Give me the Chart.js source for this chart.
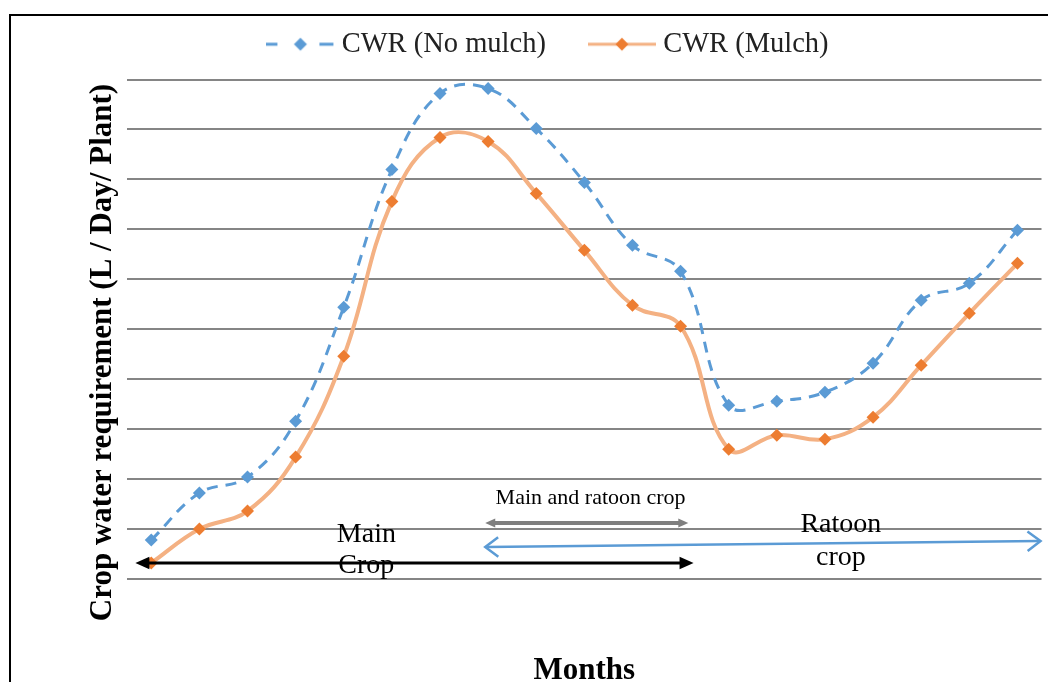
<!DOCTYPE html>
<html lang="en">
<head>
    <meta charset="UTF-8">
    <title>Crop water requirement</title>
    <script src="https://cdn.jsdelivr.net/npm/chart.js"></script>
    <style>
        html, body { margin: 0; padding: 0; background: #fff; overflow: hidden; }
        canvas { display: block; }
    </style>
</head>
<body>
    <canvas id="cwrChart" width="1048" height="682"></canvas>

    <script>
        // Months along the season (no tick labels are shown on the chart)
        const months = ['1', '2', '3', '4', '5', '6', '7', '8', '9', '10',
                        '11', '12', '13', '14', '15', '16', '17', '18', '19'];
        // Crop water requirement (one gridline = 1 unit)
        const cwrNoMulch = [0.78, 1.72, 2.04, 3.16, 5.44, 8.2, 9.72, 9.82, 9.02, 7.94,
                            6.68, 6.16, 3.48, 3.56, 3.74, 4.32, 5.58, 5.92, 6.98];
        const cwrMulch = [0.32, 1.0, 1.36, 2.44, 4.46, 7.56, 8.84, 8.76, 7.72, 6.58,
                          5.48, 5.06, 2.6, 2.88, 2.8, 3.24, 4.28, 5.32, 6.32];

        const serif = "'Liberation Serif', 'Times New Roman', serif";
        const blue = '#5B9BD5';
        const orange = '#ED7D31';
        const orangeLine = '#F4B183';

        // small canvas icons so the legend shows line + diamond like Excel
        function legendIcon(markColor, lineColor, dashed) {
            const c = document.createElement('canvas');
            c.width = 68; c.height = 16;
            const g = c.getContext('2d');
            g.strokeStyle = lineColor;
            g.lineWidth = 3;
            g.beginPath();
            if (dashed) {
                g.moveTo(0, 8); g.lineTo(11, 8);
                g.moveTo(53, 8); g.lineTo(67, 8);
            } else {
                g.moveTo(0, 8); g.lineTo(68, 8);
            }
            g.stroke();
            g.fillStyle = markColor;
            g.beginPath();
            g.moveTo(34, 1.5); g.lineTo(40.5, 8); g.lineTo(34, 14.5); g.lineTo(27.5, 8);
            g.closePath();
            g.fill();
            return c;
        }
        const legendIcons = [legendIcon(blue, blue, true), legendIcon(orange, orangeLine, false)];

        // arrows and notes under the curves, in axis units (x = month index, y = value)
        const arrows = [
            { from: [6.94, 1.12], to: [11.16, 1.12], color: '#7f7f7f', width: 4, head: 'filled', size: 10 },
            { from: [6.94, 0.64], to: [18.48, 0.76], color: blue, width: 2.5, head: 'open', size: 13 },
            { from: [-0.33, 0.32], to: [11.27, 0.32], color: '#000', width: 3, head: 'filled', size: 14 }
        ];
        const notes = [
            { text: 'Main and ratoon crop', x: 9.13, y: 1.62, size: 22 },
            { text: 'Main', x: 4.47, y: 0.89, size: 28 },
            { text: 'Crop', x: 4.47, y: 0.27, size: 28 },
            { text: 'Ratoon', x: 14.33, y: 1.08, size: 28 },
            { text: 'crop', x: 14.33, y: 0.42, size: 28 }
        ];

        function drawHead(ctx, x, y, ang, a) {
            ctx.save();
            ctx.translate(x, y);
            ctx.rotate(ang);
            if (a.head === 'open') {
                ctx.beginPath();
                ctx.moveTo(-a.size, -a.size * 0.75);
                ctx.lineTo(0, 0);
                ctx.lineTo(-a.size, a.size * 0.75);
                ctx.strokeStyle = a.color;
                ctx.lineWidth = a.width;
                ctx.stroke();
            } else {
                ctx.beginPath();
                ctx.moveTo(0, 0);
                ctx.lineTo(-a.size, -a.size * 0.45);
                ctx.lineTo(-a.size, a.size * 0.45);
                ctx.closePath();
                ctx.fillStyle = a.color;
                ctx.fill();
            }
            ctx.restore();
        }

        const annotationPlugin = {
            id: 'cropPhases',
            beforeDraw(chart) {
                const ctx = chart.ctx;
                ctx.save();
                ctx.fillStyle = '#fff';
                ctx.fillRect(0, 0, chart.width, chart.height);
                ctx.strokeStyle = '#000';
                ctx.lineWidth = 2;
                ctx.strokeRect(10, 15, 1200, 1000);
                ctx.restore();
            },
            afterDatasetsDraw(chart) {
                const ctx = chart.ctx;
                const xs = chart.scales.x, ys = chart.scales.y;
                ctx.save();
                notes.forEach(n => {
                    ctx.font = n.size + 'px ' + serif;
                    ctx.fillStyle = '#000';
                    ctx.textAlign = 'center';
                    ctx.textBaseline = 'middle';
                    ctx.fillText(n.text, xs.getPixelForValue(n.x), ys.getPixelForValue(n.y));
                });
                arrows.forEach(a => {
                    const x1 = xs.getPixelForValue(a.from[0]), y1 = ys.getPixelForValue(a.from[1]);
                    const x2 = xs.getPixelForValue(a.to[0]), y2 = ys.getPixelForValue(a.to[1]);
                    const ang = Math.atan2(y2 - y1, x2 - x1);
                    const cut = a.head === 'filled' ? a.size * 0.8 : 1;
                    ctx.beginPath();
                    ctx.moveTo(x1 + Math.cos(ang) * cut, y1 + Math.sin(ang) * cut);
                    ctx.lineTo(x2 - Math.cos(ang) * cut, y2 - Math.sin(ang) * cut);
                    ctx.strokeStyle = a.color;
                    ctx.lineWidth = a.width;
                    ctx.stroke();
                    drawHead(ctx, x2, y2, ang, a);
                    drawHead(ctx, x1, y1, ang + Math.PI, a);
                });
                ctx.restore();
            }
        };

        const data = {
            labels: months,
            datasets: [
                {
                    label: 'CWR (No mulch)',
                    data: cwrNoMulch,
                    borderColor: blue,
                    backgroundColor: blue,
                    borderWidth: 3,
                    borderDash: [11, 8],
                    pointStyle: 'rectRot',
                    pointRadius: 6.5,
                    pointBackgroundColor: blue,
                    pointBorderColor: blue,
                    pointBorderWidth: 0,
                    tension: 0.4,
                    fill: false
                },
                {
                    label: 'CWR (Mulch)',
                    data: cwrMulch,
                    borderColor: orangeLine,
                    backgroundColor: orange,
                    borderWidth: 4,
                    pointStyle: 'rectRot',
                    pointRadius: 6.5,
                    pointBackgroundColor: orange,
                    pointBorderColor: orange,
                    pointBorderWidth: 0,
                    tension: 0.4,
                    fill: false
                }
            ]
        };

        const config = {
            type: 'line',
            data: data,
            options: {
                responsive: false,
                animation: false,
                layout: { padding: { top: -19, left: 56, right: 2, bottom: -8 } },
                plugins: {
                    legend: {
                        position: 'top',
                        labels: {
                            usePointStyle: true,
                            pointStyleWidth: 54,
                            padding: 49,
                            color: '#222',
                            font: { family: serif, size: 28.5 },
                            generateLabels(chart) {
                                const items = Chart.defaults.plugins.legend.labels.generateLabels(chart);
                                items.forEach((it, i) => { it.pointStyle = legendIcons[i]; });
                                return items;
                            }
                        }
                    },
                    // empty title used as a gap between legend and plot
                    title: { display: true, text: '', weight: 500, padding: 0, font: { size: 11, lineHeight: 1 } },
                    tooltip: { enabled: false }
                },
                scales: {
                    x: {
                        offset: true,
                        grid: { display: false },
                        border: { display: false },
                        ticks: { display: false },
                        title: {
                            display: true,
                            text: 'Months',
                            color: '#000',
                            font: { family: serif, size: 31, weight: 'bold', lineHeight: 1.2 },
                            padding: { top: 65.8, bottom: 0 }
                        }
                    },
                    y: {
                        min: 0,
                        max: 10,
                        ticks: { display: false, stepSize: 1 },
                        grid: { color: '#858585', lineWidth: 2, drawTicks: false },
                        border: { display: false },
                        title: {
                            display: true,
                            text: 'Crop water requirement (L / Day/ Plant)      ',
                            color: '#000',
                            font: { family: serif, size: 31, weight: 'bold', lineHeight: 1.2 },
                            padding: { top: 28, bottom: 6 }
                        }
                    }
                }
            },
            plugins: [annotationPlugin]
        };

        const cwrChart = new Chart(document.getElementById('cwrChart'), config);
    </script>
</body>
</html>
